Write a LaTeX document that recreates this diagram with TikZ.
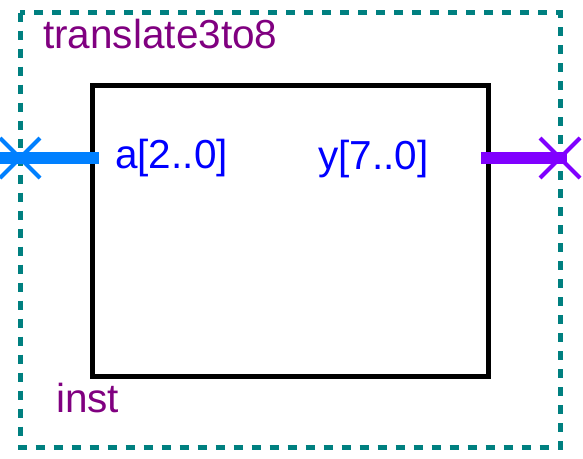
\documentclass[tikz,border=0pt]{standalone}
\usepackage{xcolor}
\usepackage{fontspec}
\setmainfont{Liberation Sans}
\definecolor{frameteal}{RGB}{0,128,128}
\definecolor{labelpurple}{RGB}{128,0,128}
\definecolor{pinblue}{RGB}{0,0,255}
\definecolor{inwire}{RGB}{0,128,255}
\definecolor{outwire}{RGB}{128,0,255}

\begin{document}
\begin{tikzpicture}[x=1pt, y=-1pt, font=\fontsize{40.5}{48}\selectfont,
    txt/.style={inner sep=0pt, anchor=base west}]
    \useasboundingbox (0,0) rectangle (583,458);
    % Symbol Frame
    \draw[frameteal, line width=5pt, dash pattern=on 9pt off 9pt] (20,12.5) rectangle (560,447);
    \node (name) [txt, text=labelpurple] at (43,48) {translate3to8};
    \node (inst) [txt, text=labelpurple] at (56,412) {inst};

    % Block Body
    \node (body) [rectangle, draw, line width=5pt, outer sep=0pt, minimum width=396pt, minimum height=291pt, anchor=north west] at (92,85) {};

    % Pins
    \coordinate (ain) at (20,158);
    \coordinate (yout) at (560,158);
    \node (alabel) [txt, text=pinblue] at (115,168) {a[2..0]};
    \node (ylabel) [txt, text=pinblue] at (318,169) {y[7..0]};
    \draw[inwire, line width=12pt] ([xshift=-20pt]ain) -- ([xshift=7pt]body.west |- ain);
    \draw[outwire, line width=12pt] ([xshift=-7pt]body.east |- yout) -- ([xshift=7pt]yout);
    \draw[inwire, line width=4pt] ([shift={(-20pt,-20pt)}]ain) -- ([shift={(20pt,20pt)}]ain)
        ([shift={(-20pt,20pt)}]ain) -- ([shift={(20pt,-20pt)}]ain);
    \draw[outwire, line width=4pt] ([shift={(-20pt,-20pt)}]yout) -- ([shift={(20pt,20pt)}]yout)
        ([shift={(-20pt,20pt)}]yout) -- ([shift={(20pt,-20pt)}]yout);
\end{tikzpicture}
\end{document}
